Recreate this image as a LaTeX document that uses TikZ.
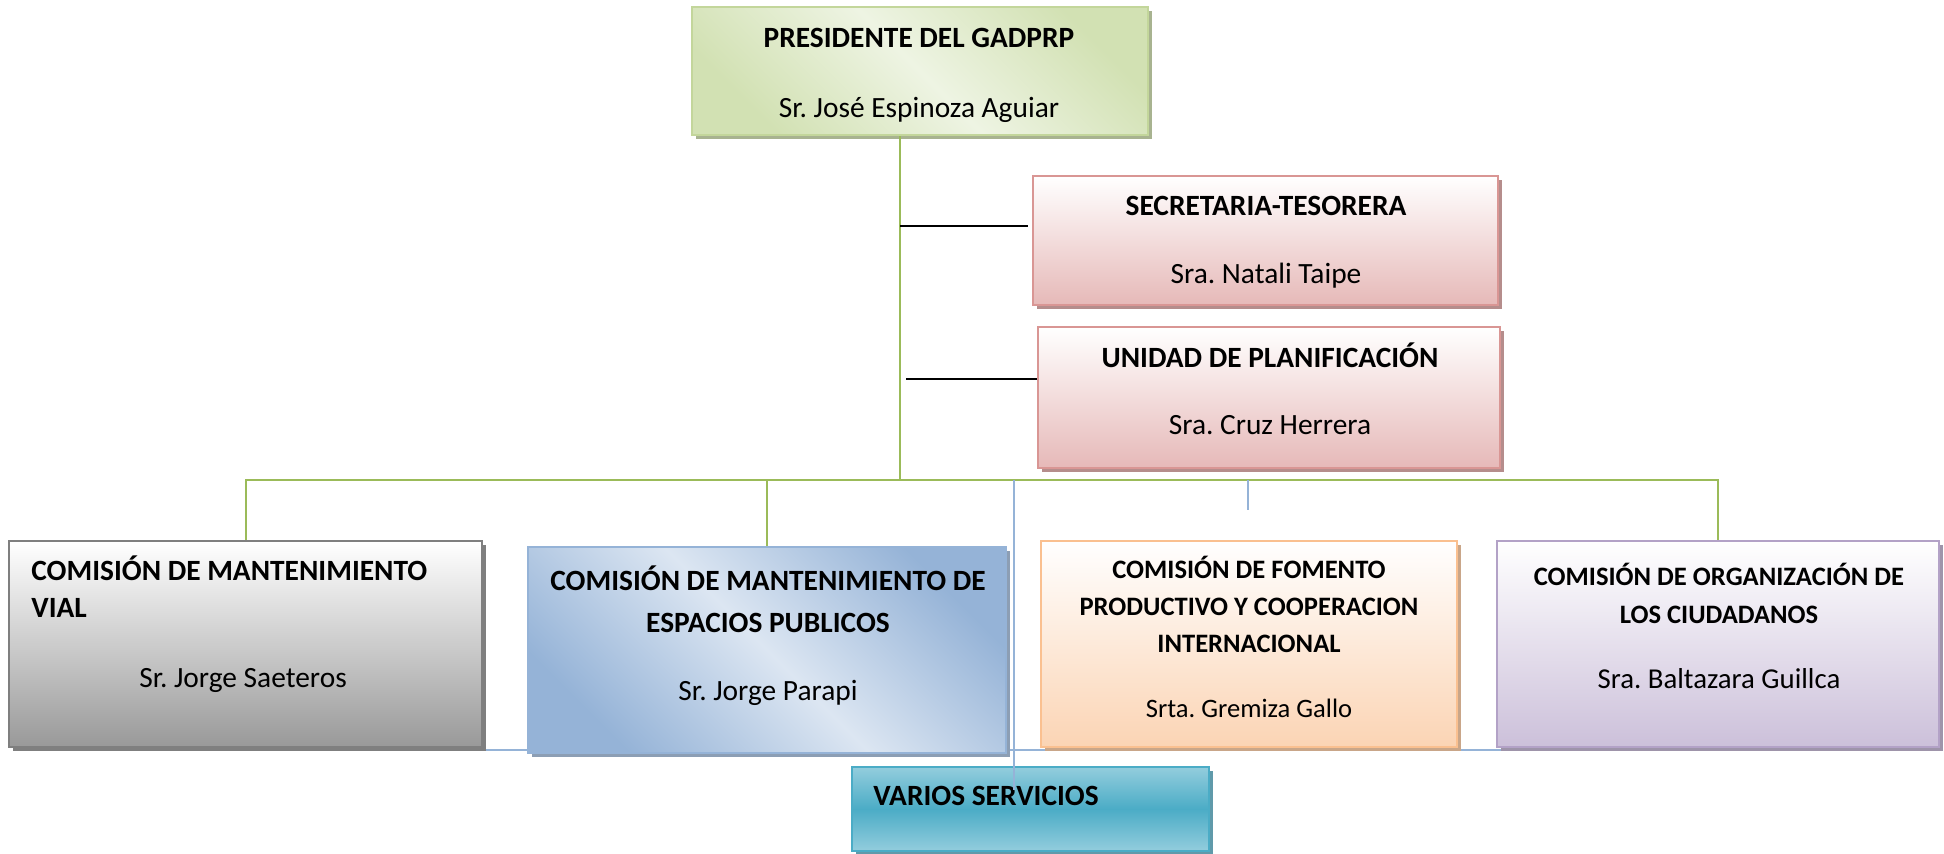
\documentclass[tikz,border=0pt]{standalone}
\usepackage{fontspec}
\setmainfont{Carlito}
\usetikzlibrary{shadows}
\frenchspacing
\definecolor{grnB}{HTML}{C3D69B}
\definecolor{grnL}{HTML}{EEF4E3}
\definecolor{grnD}{HTML}{D2E1B3}
\definecolor{pnkB}{HTML}{D99694}
\definecolor{pnkF}{HTML}{E6B9B8}
\definecolor{gryB}{HTML}{7F7F7F}
\definecolor{gryF}{HTML}{999999}
\definecolor{bluB}{HTML}{95B3D7}
\definecolor{bluL}{HTML}{DCE6F2}
\definecolor{orgB}{HTML}{FAC090}
\definecolor{orgF}{HTML}{FBD4B4}
\definecolor{purB}{HTML}{B3A2C7}
\definecolor{purF}{HTML}{CCC0DA}
\definecolor{tlB}{HTML}{4BACC6}
\definecolor{tlL}{HTML}{93CDDD}
\definecolor{tlD}{HTML}{4BACC6}
\definecolor{lnG}{HTML}{9BBB59}
\definecolor{lnB}{HTML}{95B3D7}
\tikzset{
  box/.style={draw=#1, line width=1pt, inner sep=0pt,
    drop shadow={shadow xshift=2pt, shadow yshift=-2pt, fill=#1!60!gray, opacity=1}},
  ttl/.style={inner sep=0pt, anchor=base, font=\fontsize{14.7}{17}\selectfont\bfseries},
  nme/.style={inner sep=0pt, anchor=base, font=\fontsize{14.7}{17}\selectfont},
  ttls/.style={inner sep=0pt, anchor=base, font=\fontsize{13.3}{15}\selectfont\bfseries},
  nmes/.style={inner sep=0pt, anchor=base, font=\fontsize{13.3}{15}\selectfont},
  nmem/.style={inner sep=0pt, anchor=base, font=\fontsize{14.4}{17}\selectfont},
  gline/.style={draw=lnG, line width=1pt},
  bline/.style={draw=lnB, line width=1pt},
  kline/.style={draw=black, line width=1.1pt},
}
\begin{document}
\begin{tikzpicture}[x=0.5pt,y=-0.5pt]
\useasboundingbox[fill=white] (0,0) rectangle (1944,853);
% blue line behind the boxes
\coordinate (bl) at (245,750);
\coordinate (br) at (1717,750);
\draw[bline] (bl) -- (br);
% boxes
\node[box=grnB, top color=grnD, bottom color=grnD, middle color=grnL, shading angle=-45,
  minimum width=228pt, minimum height=64pt] (pres) at (920,71) {};
\node[box=pnkB, top color=white, bottom color=pnkF,
  minimum width=232.5pt, minimum height=64.5pt] (sec) at (1265.5,240.5) {};
\node[box=pnkB, top color=white, bottom color=pnkF,
  minimum width=231pt, minimum height=70.5pt] (uni) at (1269,397.5) {};
\node[box=gryB, top color=white, bottom color=gryF,
  minimum width=236.5pt, minimum height=103pt] (vial) at (245.5,644) {};
\node[box=bluB, top color=bluB, bottom color=bluB, middle color=bluL, shading angle=-45,
  minimum width=239pt, minimum height=103pt] (esp) at (767,650) {};
\node[box=orgB, top color=white, bottom color=orgF,
  minimum width=208pt, minimum height=103pt] (fom) at (1249,644) {};
\node[box=purB, top color=white, bottom color=purF,
  minimum width=221pt, minimum height=103pt] (org) at (1718,644) {};
\node[box=tlB, top color=tlL, bottom color=tlL, middle color=tlD,
  minimum width=178.5pt, minimum height=42pt] (var) at (1030.5,809) {};
% texts
\node[ttl] (presT) at (919,47) {PRESIDENTE DEL GADPRP};
\node[nme] (presN) at (919,117) {Sr. José Espinoza Aguiar};
\node[ttl] (secT) at (1266,215) {SECRETARIA-TESORERA};
\node[nme] (secN) at (1266,283) {Sra. Natali Taipe};
\node[ttl] (uniT) at (1270,367) {UNIDAD DE PLANIFICACIÓN};
\node[nme] (uniN) at (1270,434) {Sra. Cruz Herrera};
\node[ttl, anchor=base west] (vialT1) at (31,580) {COMISIÓN DE MANTENIMIENTO};
\node[ttl, anchor=base west] (vialT2) at (31,617) {VIAL};
\node[nme] (vialN) at (243,687) {Sr. Jorge Saeteros};
\node[ttl] (espT1) at (768,590) {COMISIÓN DE MANTENIMIENTO DE};
\node[ttl] (espT2) at (768,632) {ESPACIOS PUBLICOS};
\node[nme] (espN) at (768,700) {Sr. Jorge Parapi};
\node[ttls] (fomT1) at (1249,578) {COMISIÓN DE FOMENTO};
\node[ttls] (fomT2) at (1249,615) {PRODUCTIVO Y COOPERACION};
\node[ttls] (fomT3) at (1249,652) {INTERNACIONAL};
\node[nmes] (fomN) at (1249,717) {Srta. Gremiza Gallo};
\node[ttls] (orgT1) at (1719,585) {COMISIÓN DE ORGANIZACIÓN DE};
\node[ttls] (orgT2) at (1719,623) {LOS CIUDADANOS};
\node[nmem] (orgN) at (1719,688) {Sra. Baltazara Guillca};
\node[ttl, anchor=base west] (varT) at (873,805) {VARIOS SERVICIOS};
% green connectors
\coordinate (pj) at (900,480);
\draw[gline] (pres.south -| pj) -- (pj);
\draw[gline] (vial.north) -- (vial.north |- pj) -- (org.north |- pj) -- (org.north);
\draw[gline] (esp.north) -- (esp.north |- pj);
% black connectors
\coordinate (k1) at (900,226);
\coordinate (k2) at (906,379);
\draw[kline] (k1) -- ([xshift=-2pt]k1 -| sec.west);
\draw[kline] (k2) -- (k2 -| uni.west);
% blue connectors
\coordinate (bv1) at (1014,480);
\coordinate (bv2) at (1014,790);
\draw[bline] (bv1) -- (bv2);
\coordinate (bs1) at (1248,480);
\coordinate (bs2) at (1248,510);
\draw[bline] (bs1) -- (bs2);
\end{tikzpicture}
\end{document}
